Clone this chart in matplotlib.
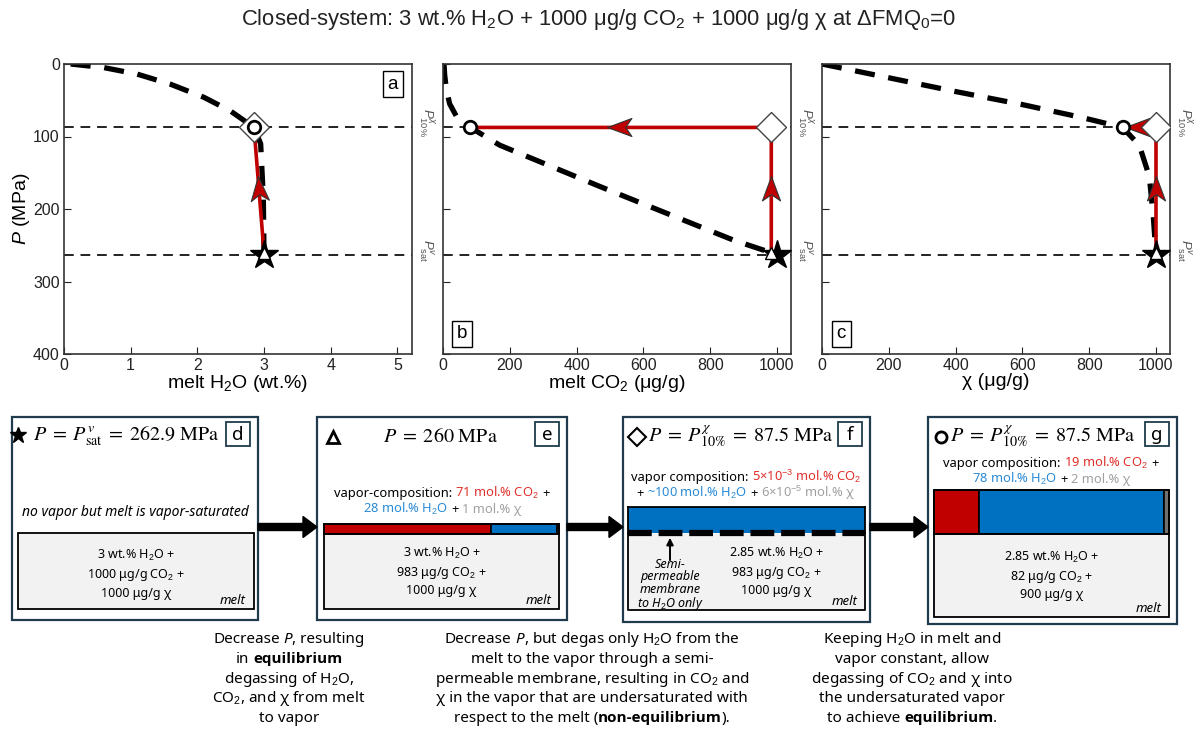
import numpy as np
import matplotlib
matplotlib.use('Agg')
import matplotlib.pyplot as plt
from matplotlib import font_manager as fm
from matplotlib.patches import Rectangle, FancyArrow
from matplotlib.path import Path
from matplotlib.transforms import blended_transform_factory

plt.rcParams['font.family'] = ['Liberation Sans', 'DejaVu Sans']
plt.rcParams['mathtext.fontset'] = 'custom'
plt.rcParams['mathtext.rm'] = 'Liberation Sans'
plt.rcParams['mathtext.it'] = 'Liberation Sans:italic'
plt.rcParams['mathtext.bf'] = 'Liberation Sans:bold'

# ---- data ----
P_sat = 262.9      # star
P_e = 260.0        # triangle
P_10 = 87.5        # diamond / circle

# closed-system equilibrium degassing curves (thick dashed)
h2o_curve = [0.1, 0.6, 1.1, 1.6, 2.1, 2.5, 2.85, 2.95, 2.99, 3.0]
h2o_curve_p = [0, 5, 14, 28, 46, 65, 87.5, 110, 185, 262.9]
co2_curve = [3, 5, 10, 20, 40, 82, 170, 470, 870, 1000]
co2_curve_p = [0, 15, 35, 55, 72, 87.5, 112, 169, 243, 262.9]
chi_curve = [0, 200, 400, 600, 780, 900, 950, 980, 992, 1000]
chi_curve_p = [0, 19, 38, 56, 74, 87.5, 112, 155, 210, 262.9]

# path star -> triangle -> diamond -> circle
path_p = [P_sat, P_e, P_10, P_10]
path_h2o = [3.0, 3.0, 2.85, 2.85]
path_co2 = [1000, 983, 983, 82]
path_chi = [1000, 1000, 1000, 900]

# box contents
melt_h2o = ['3', '3', '2.85', '2.85']
melt_co2 = ['1000', '983', '983', '82']
melt_chi = ['1000', '1000', '1000', '900']
vapor_e = [71, 28, 1]          # mol.% CO2, H2O, chi
vapor_f = [5e-3, 100, 6e-5]
vapor_g = [19, 78, 2]

W, H = 1196, 738
RED, BLUE, GRAY = '#C00000', '#0070C0', '#707070'
TRED, TBLUE, TGRAY = '#E0302A', '#2A8AD6', '#A0A0A0'
NAVY = '#1F3B4D'
BOXFONT = 'Noto Sans'


def has_bold(name):
    for f in fm.fontManager.ttflist:
        if f.name == name:
            w = f.weight if not isinstance(f.weight, str) else fm.weight_dict.get(f.weight, 400)
            if w >= 600:
                return True
    return False


if has_bold('Noto Sans'):
    BOLD = dict(weight='bold', family='Noto Sans')
elif has_bold('Open Sans'):
    BOLD = dict(weight='bold', family='Open Sans')
else:
    BOLD = dict(weight='bold', family='DejaVu Sans', size_f=0.93)

fig = plt.figure(figsize=(W / 100, H / 100), dpi=100)

fig.text(0.5, 1 - 20 / H,
         'Closed-system: 3 wt.% H$_2$O + 1000 μg/g CO$_2$ + 1000 μg/g χ at ΔFMQ$_0$=0',
         ha='center', va='center', fontsize=15.8, color='#222222')


def px_axes(l, t, r, b):
    return fig.add_axes([l / W, 1 - b / H, (r - l) / W, (b - t) / H])


def arrow_marker(angle):
    base = np.array([[0, 1], [0.65, -0.75], [0, -0.3], [-0.65, -0.75], [0, 1]])
    th = np.deg2rad(angle - 90)
    rot = np.array([[np.cos(th), -np.sin(th)], [np.sin(th), np.cos(th)]])
    v = base @ rot.T
    return Path(v, [Path.MOVETO, Path.LINETO, Path.LINETO, Path.LINETO, Path.CLOSEPOLY])


panels = [
    (px_axes(64, 64, 412, 354), h2o_curve, h2o_curve_p, path_h2o, 5.22,
     'melt H$_2$O (wt.%)', 'a', 'tr'),
    (px_axes(443, 64, 791, 354), co2_curve, co2_curve_p, path_co2, 1042,
     'melt CO$_2$ (μg/g)', 'b', 'bl'),
    (px_axes(822, 64, 1170, 354), chi_curve, chi_curve_p, path_chi, 1042,
     'χ (μg/g)', 'c', 'bl'),
]

for i, (ax, cx, cp, px, xmax, xlab, lab, corner) in enumerate(panels):
    ax.set_xlim(0, xmax)
    ax.set_ylim(400, 0)
    ax.axhline(P_10, color='#222222', lw=1.4, ls=(0, (5, 3.5)), zorder=1)
    ax.axhline(P_sat, color='#222222', lw=1.4, ls=(0, (5, 3.5)), zorder=1)
    ax.plot(cx, cp, color='black', lw=3.8, ls=(0, (3.8, 2.6)), zorder=2)
    ax.plot(px, path_p, color=RED, lw=2.6, zorder=3, solid_capstyle='butt')
    # arrow heads at segment midpoints
    for k in (1, 2):
        x0, y0 = ax.transData.transform((px[k], path_p[k]))
        x1, y1 = ax.transData.transform((px[k + 1], path_p[k + 1]))
        if abs(x1 - x0) + abs(y1 - y0) < 3:
            continue
        ang = np.degrees(np.arctan2(y1 - y0, x1 - x0))
        ax.plot((px[k] + px[k + 1]) / 2, (path_p[k] + path_p[k + 1]) / 2,
                marker=arrow_marker(ang), ms=20, mfc=RED, mec='#333333', mew=0.8,
                ls='none', zorder=4)
    ax.plot(px[0], path_p[0], marker='*', ms=21, color='black', ls='none', zorder=5)
    ax.plot(px[1], path_p[1], marker='^', ms=8, mfc='white', mec='black', mew=1.0,
            ls='none', zorder=6)
    ax.plot(px[2], path_p[2], marker='D', ms=15, mfc='white', mec='#444444', mew=1.0,
            ls='none', zorder=6)
    ax.plot(px[3], path_p[3], marker='o', ms=9, mfc='white', mec='black', mew=2.0,
            ls='none', zorder=7)

    if i == 0:
        ax.set_xticks(range(6))
        ax.set_yticks(range(0, 401, 100))
        ax.set_ylabel('$P$ (MPa)', fontsize=14, labelpad=1)
    else:
        ax.set_xticks(range(0, 1001, 200))
        ax.set_yticks(range(0, 401, 100))
        ax.tick_params(labelleft=False)
    ax.set_xlabel(xlab, fontsize=14, labelpad=0)
    ax.tick_params(direction='in', length=5, labelsize=11.5, colors='#222222', pad=3)
    for s in ax.spines.values():
        s.set_linewidth(1.2)
        s.set_color('#333333')

    bx = dict(boxstyle='square,pad=0.25', fc='white', ec='black', lw=1)
    if corner == 'tr':
        ax.text(0.945, 0.93, lab, transform=ax.transAxes, ha='center', va='center',
                fontsize=13.5, bbox=bx)
    else:
        ax.text(0.055, 0.07, lab, transform=ax.transAxes, ha='center', va='center',
                fontsize=13.5, bbox=bx)

    tr = blended_transform_factory(ax.transAxes, ax.transData)
    ax.text(1.014, P_10 - 7, r'$P^{\chi}_{10\%}$', transform=tr, rotation=270,
            ha='left', va='center', fontsize=9.5, color='#555555')
    ax.text(1.014, P_sat - 5, r'$P^{v}_{\mathrm{sat}}$', transform=tr, rotation=270,
            ha='left', va='center', fontsize=9.5, color='#555555')

# ---------- lower half, in pixel coordinates ----------
bg = fig.add_axes([0, 0, 1, 1], zorder=-1)
bg.set_xlim(0, W)
bg.set_ylim(H, 0)
bg.axis('off')

renderer = fig.canvas.get_renderer()


def text_w(s, size, family, **kw):
    t = bg.text(0, 0, s, fontsize=size, family=family, **kw)
    w = t.get_window_extent(renderer).width
    t.remove()
    return w


def rich_line(xc, y, pieces, size, family=BOXFONT):
    sp = text_w('| |', size, family) - text_w('||', size, family)
    items, total = [], 0
    for s, kw in pieces:
        kw = dict(kw)
        fam = kw.pop('family', family)
        sz = size * kw.pop('size_f', 1.0)
        lead = (len(s) - len(s.lstrip(' '))) * sp
        trail = (len(s) - len(s.rstrip(' '))) * sp
        core = s.strip(' ')
        w = text_w(core, sz, fam, **kw)
        items.append((lead, core, kw, w, trail, fam, sz))
        total += lead + w + trail
    x = xc - total / 2
    for lead, core, kw, w, trail, fam, sz in items:
        x += lead
        bg.text(x, y, core, fontsize=sz, family=fam, ha='left', va='baseline', **kw)
        x += w + trail


boxes_x = [(12, 258), (317, 567), (623, 870), (928, 1177)]
boxes_y = [(417, 620), (417, 620), (417, 622), (417, 624)]
melt_x = [(18, 254), (324, 559), (628, 865), (934, 1169)]
melt_y = [(533, 609), (534, 609), (533, 610), (534, 617)]
vapor_top = [None, 524, 507, 490]
letters = ['d', 'e', 'f', 'g']

for j in range(4):
    l, r = boxes_x[j]
    t, b = boxes_y[j]
    bg.add_patch(Rectangle((l, t), r - l, b - t, fc='white', ec=NAVY, lw=1.6))
    ml, mr = melt_x[j]
    mt, mb = melt_y[j]
    bg.add_patch(Rectangle((ml, mt), mr - ml, mb - mt, fc='#F2F2F2', ec='black',
                           lw=1.3 if j != 2 else 0, zorder=2))
    if j == 2:
        bg.plot([ml, ml, mr, mr], [mt, mb, mb, mt], color='black', lw=1.3, zorder=3)
    # letter box
    cx_l, cy_l = r - 20, 434
    bg.add_patch(Rectangle((cx_l - 12, cy_l - 12), 24, 24, fc='white', ec=NAVY,
                           lw=1.3, zorder=3))
    bg.text(cx_l, cy_l + 1, letters[j], ha='center', va='center', fontsize=13.5,
            family=BOXFONT, zorder=4)
    # melt composition
    bg.text((ml + mr) / 2 + (30 if j == 2 else 0), (mt + mb) / 2 + (3 if j == 0 else 0),
            f'{melt_h2o[j]} wt.% H$_2$O +\n{melt_co2[j]} μg/g CO$_2$ +\n{melt_chi[j]} μg/g χ',
            ha='center', va='center', fontsize=9, family=BOXFONT, linespacing=1.35,
            zorder=4)
    bg.text(mr - 8, mb - 5, 'melt', ha='right', va='baseline', fontsize=9.5,
            style='italic', family=BOXFONT, zorder=4)

# vapor bars
for j, frac in ((1, vapor_e), (2, vapor_f), (3, vapor_g)):
    ml, mr = melt_x[j]
    mt = melt_y[j][0]
    vt = vapor_top[j]
    fr = np.array(frac, dtype=float) / np.sum(frac)
    x = ml
    for f, c in zip(fr, (RED, BLUE, GRAY)):
        wdt = f * (mr - ml)
        bg.add_patch(Rectangle((x, vt), wdt, mt - vt, fc=c, ec='black' if j != 2 else 'none',
                               lw=1.2, zorder=2))
        x += wdt
    if j != 2:
        bg.add_patch(Rectangle((ml, vt), mr - ml, mt - vt, fc='none', ec='black', lw=1.3,
                               zorder=3))
    else:
        bg.plot([ml, ml], [vt, mt], color='black', lw=1.3, zorder=3)
        bg.plot([mr, mr], [vt, mt], color='black', lw=1.3, zorder=3)
        bg.plot([ml, mr], [vt, vt], color='black', lw=1.3, zorder=3)
        bg.plot([ml, mr], [mt, mt], color='black', lw=4.5, ls=(0, (3.8, 1.1)), zorder=4)

# headers
hdr = dict(math_fontfamily='stix', fontsize=14.5, va='center', ha='center')
bg.plot(18, 435, marker='*', ms=12, color='black')
bg.text(126, 436, r'$P\;=\;P^{v}_{\mathrm{sat}}\;=\;262.9\ \mathrm{MPa}$', **hdr)
bg.plot(333, 437, marker='^', ms=9, mfc='white', mec='black', mew=2)
bg.text(440, 436, r'$P\;=\;260\ \mathrm{MPa}$', **hdr)
bg.plot(637, 437, marker='D', ms=9, mfc='white', mec='black', mew=1.5)
bg.text(741, 436, r'$P\;=\;P^{\chi}_{\mathrm{10\%}}\;=\;87.5\ \mathrm{MPa}$', **hdr)
bg.plot(941, 437, marker='o', ms=8, mfc='white', mec='black', mew=2)
bg.text(1043, 436, r'$P\;=\;P^{\chi}_{\mathrm{10\%}}\;=\;87.5\ \mathrm{MPa}$', **hdr)

bg.text(135, 516, 'no vapor but melt is vapor-saturated', ha='center', va='baseline',
        fontsize=10, style='italic', family=BOXFONT)

k = {}
rich_line(442, 497, [('vapor-composition: ', k), ('71 mol.% CO$_2$', dict(color=TRED)),
                     (' +', k)], 9.3)
rich_line(442, 513, [('28 mol.% H$_2$O', dict(color=TBLUE)), (' + ', k),
                     ('1 mol.% χ', dict(color=TGRAY))], 9.3)
rich_line(746, 481, [('vapor composition: ', k),
                     ('5×10$^{-3}$ mol.% CO$_2$', dict(color=TRED))], 9.3)
rich_line(746, 497, [('+ ', k), ('~100 mol.% H$_2$O', dict(color=TBLUE)), (' + ', k),
                     ('6×10$^{-5}$ mol.% χ', dict(color=TGRAY))], 9.3)
rich_line(1051, 467, [('vapor composition: ', k), ('19 mol.% CO$_2$', dict(color=TRED)),
                      (' +', k)], 9.3)
rich_line(1051, 483, [('78 mol.% H$_2$O', dict(color=TBLUE)), (' + ', k),
                      ('2 mol.% χ', dict(color=TGRAY))], 9.3)

# membrane note
bg.annotate('', xy=(670, 535), xytext=(670, 563),
            arrowprops=dict(arrowstyle='-|>', color='black', lw=1.4, mutation_scale=10),
            zorder=5)
bg.text(670, 585, 'Semi-\npermeable\nmembrane\nto H$_2$O only', ha='center', va='center',
        fontsize=9, style='italic', family=BOXFONT, linespacing=0.92, zorder=5)

# arrows between boxes
for x0, x1 in ((258, 317), (567, 623), (870, 928)):
    bg.add_patch(FancyArrow(x0, 527, x1 - x0, 0, width=7, head_width=21, head_length=14,
                            length_includes_head=True, color='black', zorder=1))

# captions
it = dict(style='italic')
bf = BOLD
cap1 = [
    [('Decrease ', k), ('P', it), (', resulting', k)],
    [('in ', k), ('equilibrium', bf)],
    [('degassing of H$_2$O,', k)],
    [('CO$_2$, and χ from melt', k)],
    [('to vapor', k)],
]
cap2 = [
    [('Decrease ', k), ('P', it), (', but degas only H$_2$O from the', k)],
    [('melt to the vapor through a semi-', k)],
    [('permeable membrane, resulting in CO$_2$ and', k)],
    [('χ in the vapor that are undersaturated with', k)],
    [('respect to the melt (', k), ('non-equilibrium', bf), (').', k)],
]
cap3 = [
    [('Keeping H$_2$O in melt and', k)],
    [('vapor constant, allow', k)],
    [('degassing of CO$_2$ and χ into', k)],
    [('the undersaturated vapor', k)],
    [('to achieve ', k), ('equilibrium', bf), ('.', k)],
]
for xc, cap in ((289, cap1), (592, cap2), (912, cap3)):
    for n, line in enumerate(cap):
        rich_line(xc, 643 + 19.8 * n, line, 11)

fig.savefig('out.png', dpi=100)
